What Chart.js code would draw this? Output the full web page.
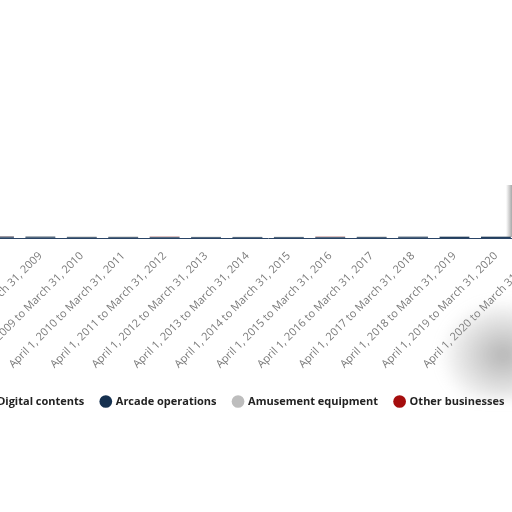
<!DOCTYPE html>
<html>
<head>
<meta charset="utf-8">
<script src="https://cdn.jsdelivr.net/npm/chart.js@4/dist/chart.umd.min.js"></script>
<style>
  html, body { margin: 0; padding: 0; width: 512px; height: 512px; overflow: hidden; background: #fff; }
  #wrap { position: absolute; left: -118px; top: 0px; width: 721px; height: 417px; }
  #curl { position: absolute; left: 440px; top: 300px; width: 90px; height: 100px;
    background: radial-gradient(ellipse at 70% 55%, rgba(120,120,120,0.55) 0%, rgba(160,160,160,0.35) 40%, rgba(255,255,255,0) 72%);
    filter: blur(6px); }
  #edge { position: absolute; left: 506px; top: 185px; width: 6px; height: 52px;
    background: linear-gradient(to right, rgba(255,255,255,0), rgba(110,110,110,0.6)); }
</style>
</head>
<body>
<div id="wrap"><canvas id="grafico"></canvas></div>
<div id="curl"></div>
<div id="edge"></div>
<script>
// fiscal years, April 1 to March 31
const periodos = [
  "April 1, 2007 to March 31, 2008",
  "April 1, 2008 to March 31, 2009",
  "April 1, 2009 to March 31, 2010",
  "April 1, 2010 to March 31, 2011",
  "April 1, 2011 to March 31, 2012",
  "April 1, 2012 to March 31, 2013",
  "April 1, 2013 to March 31, 2014",
  "April 1, 2014 to March 31, 2015",
  "April 1, 2015 to March 31, 2016",
  "April 1, 2016 to March 31, 2017",
  "April 1, 2017 to March 31, 2018",
  "April 1, 2018 to March 31, 2019",
  "April 1, 2019 to March 31, 2020",
  "April 1, 2020 to March 31, 2021"
];

// bars only show as a thin strip on the axis, values are rough estimates
const digitalContents = [160, 150, 145, 140, 130, 125, 135, 150, 165, 185, 200, 210, 225, 240];
const arcadeOperations = [120, 110, 100, 95, 90, 85, 80, 75, 70, 65, 60, 55, 50, 30];
const amusementEquipment = [80, 75, 70, 65, 60, 60, 55, 55, 50, 50, 45, 45, 40, 35];
const otherBusinesses = [20, 20, 18, 18, 15, 15, 15, 12, 12, 10, 10, 10, 8, 8];
const yMax = 40000;

const fonteTicks = { family: "'Open Sans', sans-serif", size: 11 };
const fonteLegenda = { family: "'Open Sans', sans-serif", size: 11, weight: "bold" };

new Chart(document.getElementById("grafico"), {
  type: "bar",
  data: {
    labels: periodos,
    datasets: [
      { label: "Digital contents", data: digitalContents, backgroundColor: "#23405f" },
      { label: "Arcade operations", data: arcadeOperations, backgroundColor: "#15304f" },
      { label: "Amusement equipment", data: amusementEquipment, backgroundColor: "#bdbdbd" },
      { label: "Other businesses", data: otherBusinesses, backgroundColor: "#a50d0d" }
    ]
  },
  options: {
    responsive: true,
    maintainAspectRatio: false,
    animation: false,
    layout: { padding: { left: 47, right: 45 } },
    plugins: {
      legend: {
        position: "bottom",
        labels: {
          usePointStyle: true,
          pointStyle: "circle",
          boxWidth: 9,
          boxHeight: 9,
          padding: 17,
          color: "#222",
          font: fonteLegenda
        }
      },
      tooltip: { enabled: false }
    },
    scales: {
      x: {
        stacked: true,
        grid: { display: false },
        border: { display: true, color: "#2a4466", width: 1 },
        // leave a bit more room below the labels, like the original
        afterFit: scale => { scale.height += 5; },
        ticks: {
          color: "#7a7a7a",
          font: fonteTicks,
          minRotation: 45,
          maxRotation: 45,
          autoSkip: false
        }
      },
      y: {
        stacked: true,
        display: false,
        min: 0,
        max: yMax
      }
    }
  }
});
</script>
</body>
</html>
